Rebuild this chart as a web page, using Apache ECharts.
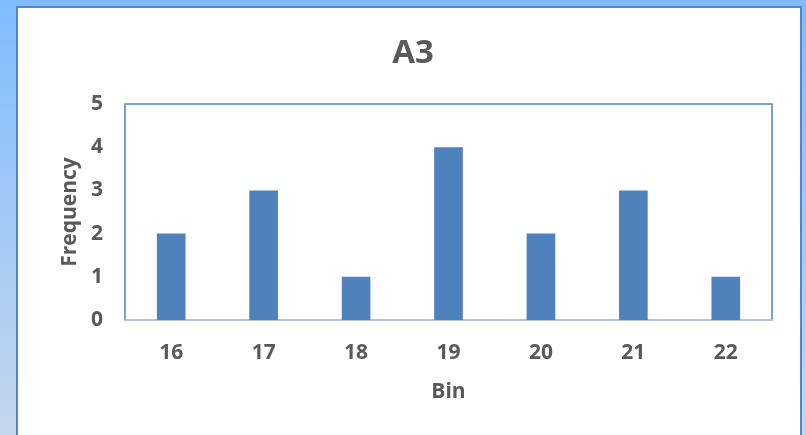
<!DOCTYPE html>
<html>
<head>
<meta charset="utf-8">
<style>
  html, body { margin: 0; padding: 0; }
  #chart { width: 806px; height: 435px; }
</style>
<script src="https://cdn.jsdelivr.net/npm/echarts@6/dist/echarts.min.js"></script>
</head>
<body>
<div id="chart"></div>
<script>
// Histogram of A3 values
const bins = ['16', '17', '18', '19', '20', '21', '22'];
const frequency = [2, 3, 1, 4, 2, 3, 1];
const yTicks = [0, 1, 2, 3, 4, 5];

const chart = echarts.init(document.getElementById('chart'), null, { renderer: 'canvas' });

const labelFont = {
  color: '#595959',
  fontFamily: 'Open Sans, Liberation Sans, sans-serif',
  fontWeight: 'bold',
  fontSize: 21
};

chart.setOption({
  animation: false,
  backgroundColor: {
    type: 'linear', x: 0, y: 0, x2: 0, y2: 1,
    colorStops: [
      { offset: 0, color: '#80bcff' },
      { offset: 1, color: '#c4d6ec' }
    ]
  },
  graphic: [
    {
      type: 'rect',
      z: -10,
      silent: true,
      shape: { x: 17, y: 7, width: 784, height: 440 },
      style: { fill: '#ffffff', stroke: '#5585c8', lineWidth: 2 }
    }
  ],
  title: {
    text: 'A3',
    left: 408,
    top: 32,
    textAlign: 'center',
    textStyle: {
      color: '#595959',
      fontFamily: 'Open Sans, Liberation Sans, sans-serif',
      fontWeight: 'bold',
      fontSize: 33
    }
  },
  grid: {
    left: 125,
    top: 104,
    right: 34,
    bottom: 115,
    show: true,
    borderColor: '#4f81bd',
    borderWidth: 1.5,
    backgroundColor: 'transparent'
  },
  xAxis: {
    type: 'category',
    data: bins,
    name: 'Bin',
    nameLocation: 'middle',
    nameGap: 62,
    nameTextStyle: labelFont,
    axisLine: { show: true, lineStyle: { color: '#c9cfd8', width: 1.5 } },
    axisTick: { show: false },
    axisLabel: Object.assign({ margin: 23 }, labelFont)
  },
  yAxis: {
    type: 'value',
    min: 0,
    max: 5,
    interval: 1,
    name: 'Frequency',
    nameLocation: 'middle',
    nameGap: 44,
    nameTextStyle: labelFont,
    splitLine: { show: false },
    axisLine: { show: false },
    axisTick: { show: false },
    axisLabel: Object.assign({
      margin: 22,
      formatter: v => (yTicks.includes(v) ? String(v) : '')
    }, labelFont)
  },
  series: [
    {
      type: 'bar',
      data: frequency,
      barWidth: '31%',
      itemStyle: { color: '#4f81bd' }
    }
  ]
});
</script>
</body>
</html>
